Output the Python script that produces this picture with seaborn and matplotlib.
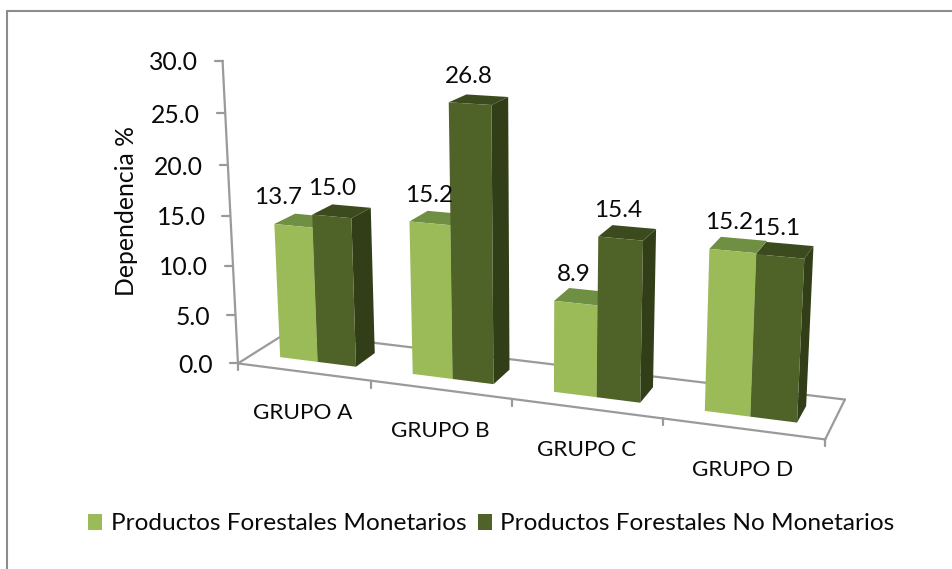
import numpy as np
import pandas as pd
import matplotlib
matplotlib.use("Agg")
import matplotlib.pyplot as plt
import matplotlib.transforms as mtransforms
from matplotlib.patches import Polygon
from matplotlib.lines import Line2D
import seaborn as sns

W, H = 953, 569

# ---- data ----
groups = ["GRUPO A", "GRUPO B", "GRUPO C", "GRUPO D"]
series = ["Productos Forestales Monetarios", "Productos Forestales No Monetarios"]
monetarios = [13.7, 15.2, 8.9, 15.2]
no_monetarios = [15.0, 26.8, 15.4, 15.1]
y_ticks = [0, 5, 10, 15, 20, 25, 30]

# ---- styles ----
front_cols = ["#9BBB59", "#4F6228"]
top_cols = ["#6F8F42", "#3B4B1D"]
side_cols = ["#5F7A34", "#313E17"]
axis_col = "#9A9A9A"
BAR_WIDTH = 0.58
Z0, Z1 = 0.30, 0.72

# ---- camera calibration: (category x, value, depth) -> reference pixel ----
calib = [
    (-0.5, 0, 0, 238, 364), (0.5, 0, 0, 370, 380), (1.5, 0, 0, 511, 400),
    (2.5, 0, 0, 663, 419), (3.5, 0, 0, 825, 440), (-0.5, 30, 0, 222, 60),
    (-0.5, 15, 0, 230, 215), (-0.5, 0, 1, 286, 333), (3.5, 0, 1, 845, 399),
    (2.71, 15.2, Z0, 710, 249), (3.29, 15.1, Z0, 804, 258),
    (2.71, 0, Z0, 706, 411), (3.29, 0, Z0, 797, 422),
    (1.0, 26.8, Z0, 449, 103), (1.29, 26.8, Z0, 491, 106),
    (1.29, 0, Z0, 493, 383), (-0.29, 0, Z0, 282, 357), (-0.29, 13.7, Z0, 276, 224),
]


def fit_camera(rows):
    A = []
    for x, y, z, u, v in rows:
        X = [x, y / 15.0, z, 1.0]
        u, v = u / 500.0, v / 500.0
        A.append(X + [0, 0, 0, 0] + [-u * c for c in X])
        A.append([0, 0, 0, 0] + X + [-v * c for c in X])
    _, _, vt = np.linalg.svd(np.array(A))
    P = vt[-1].reshape(3, 4)
    return np.diag([500.0, 500.0, 1.0]) @ P @ np.diag([1, 1 / 15.0, 1, 1])


CAM = fit_camera(calib)


def project(x, y, z):
    """World position to image pixel (y down)."""
    h = CAM @ np.array([x, y, z, 1.0])
    return h[0] / h[2], h[1] / h[2]


def disp(x, y, z):
    u, v = project(x, y, z)
    return u, H - v


class Perspective(mtransforms.Transform):
    input_dims = 2
    output_dims = 2
    is_separable = False
    has_inverse = False

    def __init__(self, z):
        super().__init__()
        self.z = z

    def transform_non_affine(self, values):
        values = np.asarray(values, dtype=float)
        return np.array([disp(a, b, self.z) for a, b in values]).reshape(-1, 2)


sns.set_style("white")
plt.rcParams["font.family"] = ["Lato", "DejaVu Sans"]
TXT = "#0A0A0A"

df = pd.DataFrame({
    "grupo": groups * 2,
    "serie": [series[0]] * 4 + [series[1]] * 4,
    "valor": monetarios + no_monetarios,
})

fig = plt.figure(figsize=(W / 100, H / 100), dpi=100, facecolor="white")
ax = fig.add_axes([0, 0, 1, 1])
sns.barplot(data=df, x="grupo", y="valor", hue="serie", hue_order=series,
            palette=front_cols, width=BAR_WIDTH, gap=0, errorbar=None,
            saturation=1, edgecolor="none", linewidth=0, ax=ax)
ax.axis("off")
ident = mtransforms.IdentityTransform()

# chart frame
for xs, ys in [((7, 7), (0, H - 11)), ((6, W), (H - 11, H - 11))]:
    fig.add_artist(Line2D(xs, ys, transform=ident, color="#8C8C8C", lw=1.5,
                          solid_capstyle="butt"))

# floor
x0, x1 = -0.5, 3.5
floor = [((x0, 0, 0), (x1, 0, 0)), ((x0, 0, 0), (x0, 0, 1)),
         ((x0, 0, 1), (x1, 0, 1)), ((x1, 0, 0), (x1, 0, 1))]
for a, b in floor:
    pa, pb = disp(*a), disp(*b)
    ax.add_line(Line2D([pa[0], pb[0]], [pa[1], pb[1]], transform=ident,
                       color=axis_col, lw=1.6, zorder=1, clip_on=False))
# category ticks
for i in range(len(groups) + 1):
    u, v = disp(x0 + i, 0, 0)
    ax.add_line(Line2D([u, u], [v, v - 7], transform=ident, color=axis_col,
                       lw=1.6, zorder=1, clip_on=False))
# value axis
pa, pb = disp(x0, y_ticks[0], 0), disp(x0, y_ticks[-1], 0)
ax.add_line(Line2D([pa[0], pb[0]], [pa[1], pb[1]], transform=ident,
                   color=axis_col, lw=1.6, zorder=1, clip_on=False))
for t in y_ticks:
    u, v = disp(x0, t, 0)
    ax.add_line(Line2D([u - 8, u], [v, v], transform=ident, color=axis_col,
                       lw=1.6, zorder=1, clip_on=False))
    ax.text(u - 25, v - 2, f"{t:.1f}", transform=ident, ha="right", va="center",
            fontsize=17.8, color=TXT)

# group labels
for i, g in enumerate(groups):
    ua, va_ = disp(x0 + i, 0, 0)
    ub, vb = disp(x0 + i + 1, 0, 0)
    ax.text((ua + ub) / 2 - 1.5, (va_ + vb) / 2 - 41, g, transform=ident,
            ha="center", va="center", fontsize=16.2, color=TXT)

# bars
persp = Perspective(Z0)
value_dx = [[-16, 0, 0, 0], [0, 0, 0, 0]]
z = 10
order = []
for s, cont in enumerate(ax.containers):
    for i, bar in enumerate(cont):
        order.append((i, s, bar))
order.sort(key=lambda t: (t[0], t[1]))
for i, s, bar in order:
    bx0, bx1 = bar.get_x(), bar.get_x() + bar.get_width()
    val = bar.get_height()
    side = [disp(bx1, 0, Z0), disp(bx1, 0, Z1), disp(bx1, val, Z1), disp(bx1, val, Z0)]
    top = [disp(bx0, val, Z0), disp(bx1, val, Z0), disp(bx1, val, Z1), disp(bx0, val, Z1)]
    ax.add_patch(Polygon(side, closed=True, transform=ident, fc=side_cols[s], ec="none",
                         zorder=z, clip_on=False))
    ax.add_patch(Polygon(top, closed=True, transform=ident, fc=top_cols[s], ec="none",
                         zorder=z + 1, clip_on=False))
    bar.set_transform(persp)
    bar.set_zorder(z + 2)
    bar.set_clip_on(False)
    u, v = disp(bx0, val, Z0)
    ax.text(u + 20 + value_dx[s][i], v + 26, f"{val:.1f}", transform=ident,
            ha="center", va="center", fontsize=17.5, color=TXT, zorder=50)
    z += 3

# axis title
ax.text(126, H - 211, "Dependencia %", transform=ident, rotation=90, ha="center",
        va="center", fontsize=17.8, color=TXT)

sns.move_legend(ax, "center", bbox_to_anchor=(491.5 / W, 1 - 524 / H), ncol=2, title=None,
                frameon=False, fontsize=17.6, handlelength=0.57, handleheight=0.65,
                handletextpad=0.36, columnspacing=0.45, labelcolor=TXT)

fig.savefig("out.png", dpi=100, facecolor="white")
